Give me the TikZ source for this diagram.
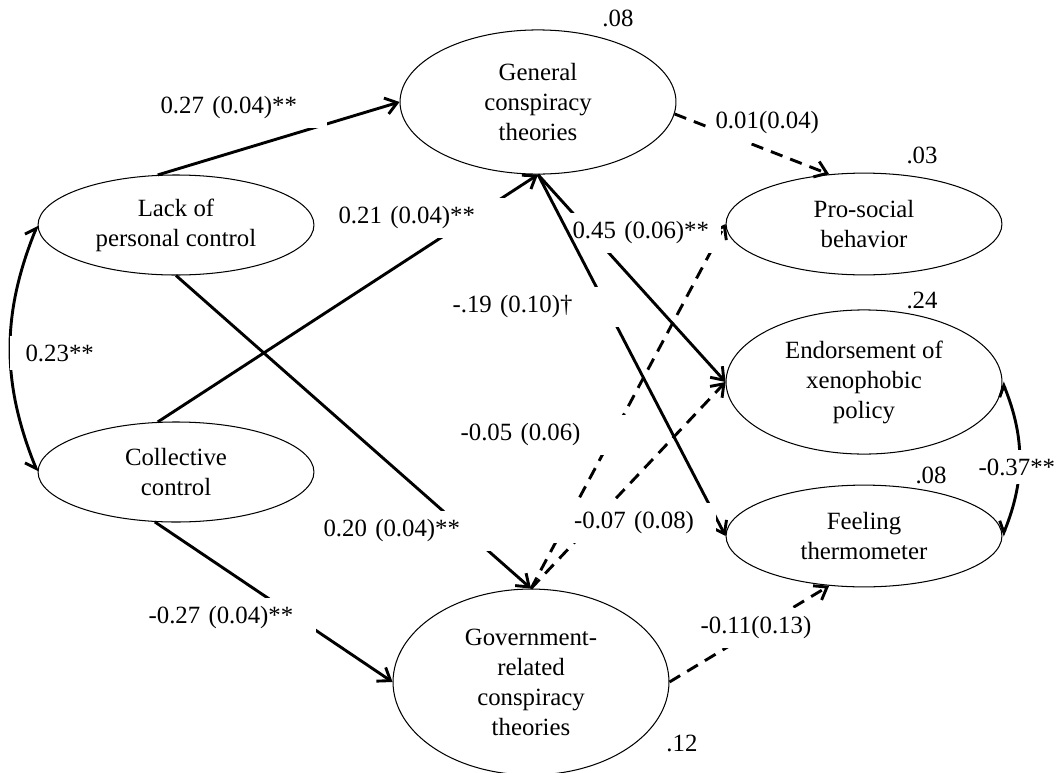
\documentclass[tikz,border=0pt]{standalone}
\usepackage{fontspec}
\setmainfont{Liberation Serif}
\usepackage{tikz}
\usetikzlibrary{shapes.geometric, arrows.meta}

\tikzset{
	latent/.style={draw, ellipse, line width=0.5pt, inner sep=0pt, minimum width=4.69cm, align=center},
	effect/.style={line width=1.4pt, -{Straight Barb[length=5.5pt,width=8pt]}},
	weak/.style={effect, dash pattern=on 6pt off 4pt},
	covar/.style={line width=1.4pt, {Straight Barb[left,length=4.5pt,width=8pt]}-{Straight Barb[right,length=4.5pt,width=8pt]}},
	coef/.style={fill=white, anchor=west, align=left, inner xsep=2.5pt, inner ysep=4pt, text width=#1},
	rsq/.style={inner sep=0pt}
}

\begin{document}
\begin{tikzpicture}[x=0.017cm, y=-0.017cm, font=\fontsize{12}{14.5}\selectfont]
	\useasboundingbox (0,0) rectangle (1056,773);
	% latent variables
	\node[latent, minimum height=2.45cm] (gct) at (538,102) {General\\conspiracy\\theories};
	\node[latent, minimum height=1.7cm] (lpc) at (176,225) {Lack of\\personal control};
	\node[latent, minimum height=1.7cm] (cc) at (176,472) {Collective\\control};
	\node[latent, minimum height=3.16cm] (grct) at (531,682) {Government-\\related\\conspiracy\\theories};
	\node[latent, minimum height=1.73cm] (psb) at (864,224) {Pro-social\\behavior};
	\node[latent, minimum height=2.45cm] (exp) at (864,382) {Endorsement of\\xenophobic\\policy};
	\node[latent, minimum height=1.73cm] (ft) at (864,536) {Feeling\\thermometer};
	% explained variance
	\node[rsq] (rgct) at (618,18) {.08};
	\node[rsq] (rpsb) at (922,155) {.03};
	\node[rsq] (rexp) at (922,300) {.24};
	\node[rsq] (rft) at (931,475) {.08};
	\node[rsq] (rgrct) at (682,743) {.12};
	% paths
	\draw[effect] (lpc.110) -- (gct.west);
	\draw[effect] (cc.110) -- (gct.south);
	\draw[effect] (lpc.south) -- (grct.north);
	\draw[effect] (cc.-113) -- (grct.west);
	\draw[weak] (gct.-5) -- (psb.125);
	\draw[effect] (gct.south) -- (exp.west);
	\draw[weak] (grct.north) -- (psb.west);
	\draw[weak] (grct.north) -- (exp.west);
	\draw[weak] (grct.east) -- (ft.-125);
	\draw[covar] (lpc.west) to[bend right=22] (cc.west);
	\draw[covar] (exp.east) to[bend left=22] (ft.east);
	\node[coef=2.43cm] (b45) at (567,233) {0.45 (0.06)**};
	\draw[effect] (gct.south) -- (ft.west);
	% coefficients
	\node[coef=2.74cm] (b27) at (155,108) {0.27 (0.04)**};
	\node[coef=2.92cm] (b21) at (333,218) {0.21 (0.04)**};
	\node[coef=2.8cm] (b19) at (447,307) {-.19 (0.10)†};
	\node[coef=2.89cm] (b05) at (455,435) {-0.05 (0.06)};
	\node[coef=2.6cm, align=center] (b07) at (552,523) {-0.07 (0.08)};
	\node[coef=2.92cm] (b20) at (318,531) {0.20 (0.04)**};
	\node[coef=2.75cm] (bm27) at (143,618) {-0.27 (0.04)**};
	\node[coef=1.87cm] (b01) at (710,123) {0.01(0.04)};
	\node[coef=2.1cm] (b11) at (695,628) {-0.11(0.13)};
	\node[coef=1.5cm, align=center] (b23) at (10,353) {0.23**};
	\node[coef=1.5cm] (b37) at (973,467) {-0.37**};
\end{tikzpicture}
\end{document}
